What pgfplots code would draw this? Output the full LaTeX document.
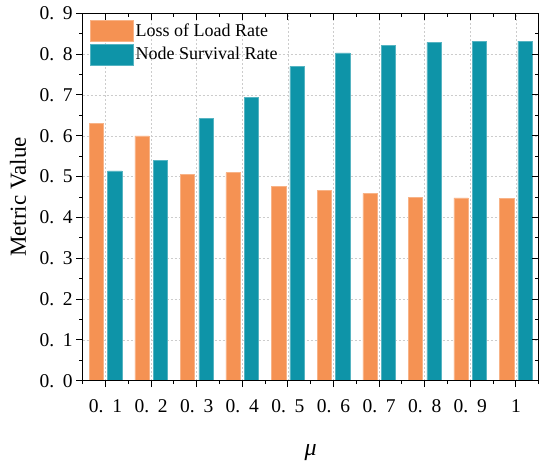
\documentclass[border=0pt]{standalone}
\usepackage{pgfplots}
\pgfplotsset{compat=1.18}
\usepackage{fontspec}
\setmainfont{Liberation Serif}
\definecolor{cOr}{HTML}{F59253}
\definecolor{cTe}{HTML}{0E94A8}
\newcommand\dd[1]{0.\kern0.45em#1}
\pgfplotstableread{
x loss node
1 0.630 0.514
2 0.600 0.540
3 0.506 0.642
4 0.510 0.694
5 0.476 0.770
6 0.466 0.803
7 0.459 0.822
8 0.450 0.829
9 0.448 0.831
10 0.446 0.832
}\datatab
\begin{document}
\begin{tikzpicture}
\useasboundingbox (-82.7pt,-80.3pt) rectangle (467.3pt,380.7pt);
\pgfplotsset{
  common/.style={
    width=456pt, height=367.4pt, scale only axis,
    xmin=0.5, xmax=10.5, ymin=0, ymax=0.9,
    xtick={1,...,10}, minor xtick={0.5,1.5,...,10.5},
    ytick={0,0.1,...,0.9}, minor ytick={0.05,0.15,...,0.85},
    major tick length=6.5pt, minor tick length=3.5pt,
    every tick/.style={black, line width=0.9pt},
    axis line style={line width=1.1pt, black},
  }
}
\begin{axis}[common,
  /pgf/number format/assume math mode=true,
  xtick pos=bottom, ytick pos=left, tick align=outside,
  xticklabels={\dd1,\dd2,\dd3,\dd4,\dd5,\dd6,\dd7,\dd8,\dd9,1},
  yticklabels={\dd0,\dd1,\dd2,\dd3,\dd4,\dd5,\dd6,\dd7,\dd8,\dd9},
  ticklabel style={font=\fontsize{19.5}{21}\selectfont},
  xticklabel style={yshift=-9pt},
  grid=major,
  major grid style={gray!40, line width=0.5pt, dash pattern=on 2pt off 2pt},
  xlabel={\textit{μ}},
  xlabel style={font=\fontsize{24}{26}\selectfont, at={(axis description cs:0.5,0)}, anchor=center, yshift=-72pt},
  ylabel={Metric Value},
  ylabel style={font=\fontsize{23}{25}\selectfont, at={(axis description cs:-0.1419,0.5)}, anchor=center},
  legend style={at={(axis description cs:0.016,0.982)}, anchor=north west, draw=none, fill=none,
    font=\fontsize{18}{20}\selectfont, row sep=2pt, inner sep=0pt},
  legend cell align=left,
  legend image code/.code={\fill[#1] (0pt,-10.5pt) rectangle (43pt,10.5pt);},
]
\addplot[ybar, bar width=14.2pt, bar shift=-9.2pt, fill=cOr, draw=cOr!70!white, line width=0.5pt] table[x=x,y=loss] {\datatab};
\addlegendentry{Loss of Load Rate}
\addplot[ybar, bar width=14.2pt, bar shift=9.2pt, fill=cTe, draw=cTe!70!white, line width=0.5pt] table[x=x,y=node] {\datatab};
\addlegendentry{Node Survival Rate}
\end{axis}
\begin{axis}[common,
  xtick pos=top, ytick pos=right, tick align=inside,
  xticklabels={}, yticklabels={},
]
\end{axis}
\end{tikzpicture}
\end{document}
